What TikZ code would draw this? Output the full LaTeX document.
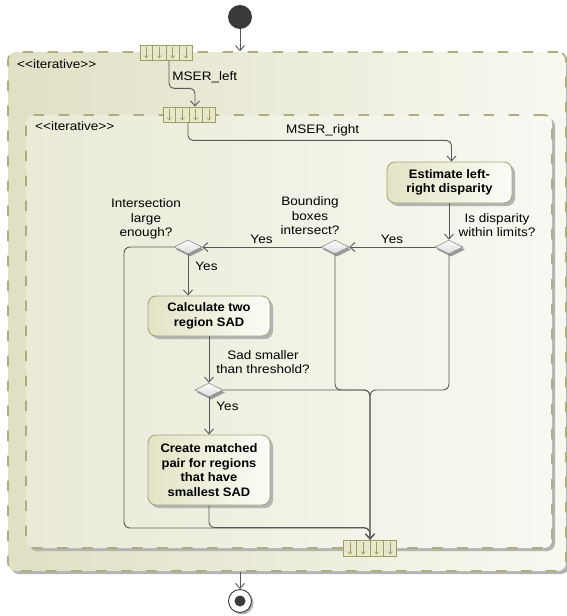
\documentclass[tikz,border=0pt]{standalone}
\usepackage{fontspec}
\setmainfont{Liberation Sans}[FakeStretch=1.1, BoldFeatures={FakeStretch=1.05}]
\usetikzlibrary{arrows.meta,shapes.geometric,calc,shadows}

\definecolor{linegray}{HTML}{595959}
\definecolor{dashol}{HTML}{ADAD80}
\definecolor{regL}{HTML}{E0E0C5}
\definecolor{regR}{HTML}{F8F8F1}
\definecolor{inL}{HTML}{EAEAD7}
\definecolor{inR}{HTML}{F8F8F2}
\definecolor{actL}{HTML}{E3E3C4}
\definecolor{actR}{HTML}{FCFCF8}
\definecolor{actB}{HTML}{A6A67A}
\definecolor{expB}{HTML}{9E9E62}
\definecolor{expF}{HTML}{E8E8CC}
\definecolor{shadowgray}{HTML}{B4B4B4}
\definecolor{initc}{HTML}{3A3A3A}

% cell dividers and small arrows of an expansion node
\newcommand\expcells[1]{%
  \foreach \k in {1,2,3}{%
    \draw[expB, line width=0.7pt] ($(#1.north west)!\k/4!(#1.north east)$) -- ($(#1.south west)!\k/4!(#1.south east)$);}
  \foreach \k in {1,3,5,7}{%
    \draw[expB, line width=0.6pt, -{Straight Barb[length=2.5pt,width=4.5pt,line width=0.6pt]}]
      ($(#1.north west)!\k/8!(#1.north east)+(0,2.5)$) -- ($(#1.south west)!\k/8!(#1.south east)+(0,-2)$);}
}

\begin{document}
\begin{tikzpicture}[x=1pt,y=-1pt,
  font=\fontsize{12.3}{14.5}\selectfont,
  line/.style={draw=linegray, line width=0.9pt},
  flow/.style={line, rounded corners=5pt, -{Straight Barb[length=5pt,width=9pt,line width=0.9pt]}},
  region/.style={rectangle, rounded corners=8pt, draw=dashol, line width=1.6pt,
    dash pattern=on 10.5pt off 14.5pt, inner sep=0pt,
    drop shadow={shadow xshift=3pt, shadow yshift=-3pt, fill=shadowgray, opacity=1}},
  action/.style={rectangle, rounded corners=8pt, draw=actB, line width=0.9pt,
    left color=actL, right color=actR, align=center, inner sep=0pt,
    font=\fontsize{12.3}{14.5}\selectfont\bfseries,
    drop shadow={shadow xshift=3pt, shadow yshift=-3pt, fill=shadowgray, opacity=1}},
  decision/.style={diamond, minimum width=28pt, minimum height=14pt, inner sep=0pt,
    shape aspect=2, draw=black!45, line width=0.6pt, top color=white, bottom color=black!15,
    drop shadow={shadow xshift=2pt, shadow yshift=-2.5pt, fill=black!40, opacity=1}},
  pinbox/.style={rectangle, draw=expB, line width=0.8pt, fill=expF,
    minimum width=52pt, minimum height=15pt, inner sep=0pt},
  lbl/.style={align=center, inner sep=0pt},
]
\useasboundingbox (0,0) rectangle (567,616);

% expansion regions
\node[region, minimum width=558pt, minimum height=519pt, left color=regL, right color=regR] (outer) at (287,311.5) {};
\node[region, minimum width=526pt, minimum height=433pt, left color=inL, right color=inR] (inner) at (289,331.5) {};
\node[lbl, anchor=west] (titleA) at (17,64) {<\kern0pt<iterative>\kern0pt>};
\node[lbl, anchor=west] (titleB) at (35,126) {<\kern0pt<iterative>\kern0pt>};

% initial and final nodes
\node[circle, fill=initc, minimum size=24pt, inner sep=0pt] (init) at (240,17) {};
\node[circle, draw=initc, line width=0.9pt, fill=white, minimum size=23pt, inner sep=0pt,
  drop shadow={shadow xshift=2pt, shadow yshift=-2pt, fill=shadowgray, opacity=1}] (final) at (240,601) {};
\fill[initc] (final.center) circle[radius=5.5pt];

% expansion nodes
\node[pinbox] (pinA) at (166,52.5) {};
\expcells{pinA}
\node[pinbox] (pinB) at (189,114.5) {};
\expcells{pinB}
\node[pinbox, minimum width=53pt, minimum height=16pt] (pinC) at (370,548) {};
\expcells{pinC}

% actions
\node[action, minimum width=125pt, minimum height=41pt] (est) at (449.5,182.5) {Estimate left-\\right disparity};
\node[action, minimum width=122pt, minimum height=40pt] (calc) at (209,316) {Calculate two\\region SAD};
\node[action, minimum width=122pt, minimum height=70pt] (create) at (209,470) {Create matched\\pair for regions\\that have\\smallest SAD};

% decisions
\node[decision] (d1) at (449,247) {};
\node[decision] (d2) at (335,247) {};
\node[decision] (d3) at (188,247) {};
\node[decision] (d4) at (209,390) {};

% decision questions
\node[lbl] (q1) at (497,225) {Is disparity\\within limits?};
\node[lbl] (q2) at (310,216) {Bounding\\boxes\\intersect?};
\node[lbl] (q3) at (146,219) {Intersection\\large\\enough?};
\node[lbl] (q4) at (263,362) {Sad smaller\\than threshold?};

% flows
\draw[flow] (init) -- (init |- outer.north);
\draw[flow] ([xshift=3pt]pinA.south) -- ++(0,28) node[lbl, anchor=west, pos=0.6, xshift=3pt] (mserl) {MSER\_left} -| ([xshift=6pt]pinB.north);
\draw[flow] ([xshift=-1pt]pinB.south) -- ++(0,18) -| ([xshift=2pt]est.north);
\node[lbl, anchor=west] (mserr) at (286,130) {MSER\_right};
\draw[flow] (d1 |- est.south) -- (d1.north);
\draw[flow] (d1.west) -- node[lbl, above=3pt] (y1) {Yes} (d2.east);
\draw[flow] (d2.west) -- node[lbl, above=3pt] (y2) {Yes} (d3.east);
\draw[flow] (d3.south) -- node[lbl, anchor=west, pos=0.28, xshift=7pt] (y3) {Yes} (d3.south |- calc.north);
\draw[flow] (calc.south) -- (d4.north);
\draw[flow] (d4.south) -- node[lbl, anchor=west, pos=0.24, xshift=7pt] (y4) {Yes} (create.north);

% merging flows into the output pin
\coordinate (jn) at (370,390);
\coordinate (lft) at (124,528);
\draw[flow, rounded corners=6pt] (d3.west) -| (lft) -| (pinC.north);
\draw[flow, rounded corners=6pt] (create.south) |- ([yshift=12pt]pinC.north) -- (pinC.north);
\draw[flow, rounded corners=6pt] (d4.east) -| (pinC.north);
\draw[flow, rounded corners=6pt] (d2.south) |- (jn) -- (pinC.north);
\draw[flow, rounded corners=6pt] (d1.south) |- (jn) -- (pinC.north);

\draw[flow] (final |- outer.south) -- (final);
\end{tikzpicture}
\end{document}
